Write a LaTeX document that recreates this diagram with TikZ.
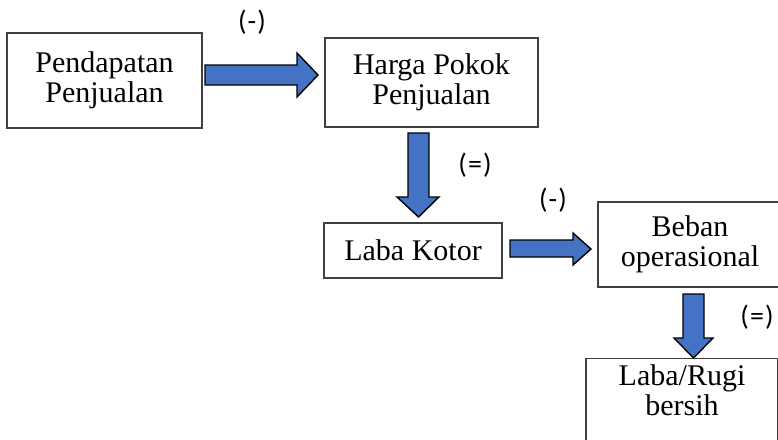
\documentclass[tikz,border=0pt]{standalone}
\usepackage{fontspec}
\setmainfont{Liberation Serif}
\newfontfamily\lblfont[LetterSpace=4]{Carlito}
\definecolor{arrowblue}{HTML}{4472C4}
\definecolor{boxline}{HTML}{404040}
\begin{document}
\begin{tikzpicture}[x=1pt,y=1pt,
  box/.style={draw=boxline, line width=1.3pt, fill=white, inner sep=0pt, align=center,
    font=\fontsize{30}{30}\selectfont},
  txt/.style={inner sep=0pt, align=center, font=\fontsize{30}{30}\selectfont},
  blockarrow/.style={draw=black, line width=1.4pt, fill=arrowblue, line join=miter},
  sign/.style={inner sep=0pt, font=\lblfont\fontsize{28}{30}\selectfont}]
\useasboundingbox (0,0) rectangle (778,-439);
\clip (0,0) rectangle (778,-439);
% boxes
\node[box, minimum width=195, minimum height=95] (pend) at (104.5,-80.5) {Pendapatan\\Penjualan};
\node[box, minimum width=213, minimum height=89] (harga) at (431.5,-82.5) {Harga Pokok\\Penjualan};
\node[box, minimum width=178, minimum height=55] (laba) at (413,-250.5) {Laba Kotor};
\node[box, minimum width=184, minimum height=85] (beban) at (690,-244.5) {Beban\\operasional};
\node[box, minimum width=192, minimum height=110, anchor=north] (rugi) at (682,-358) {};
\node[txt] (rugitext) at (682,-390) {Laba/Rugi\\bersih};
% block arrows
\draw[blockarrow] (205,-65) -- (297,-65) -- (297,-53) -- (318,-75) -- (297,-97) -- (297,-85) -- (205,-85) -- cycle;
\draw[blockarrow] (408,-133) -- (429,-133) -- (429,-197) -- (439,-197) -- (418.5,-217) -- (397,-197) -- (408,-197) -- cycle;
\draw[blockarrow] (510,-240) -- (573,-240) -- (573,-233) -- (591,-249) -- (573,-265) -- (573,-257) -- (510,-257) -- cycle;
\draw[blockarrow] (683,-294) -- (704,-294) -- (704,-338) -- (713,-338) -- (693.5,-358) -- (674,-338) -- (683,-338) -- cycle;
% signs
\node[sign] (s1) at (252,-22) {(-)};
\node[sign] (s2) at (475,-165) {(=)};
\node[sign] (s3) at (553,-200) {(-)};
\node[sign] (s4) at (757,-317) {(=)};
\end{tikzpicture}
\end{document}
